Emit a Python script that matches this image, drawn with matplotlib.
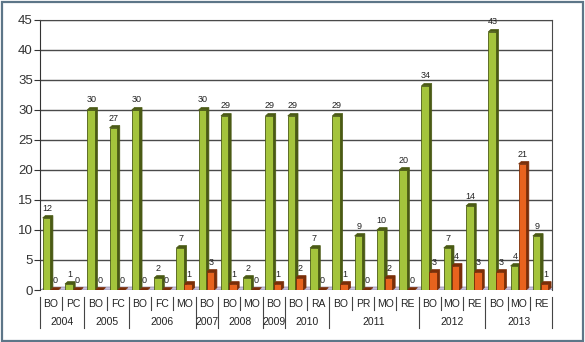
import matplotlib
matplotlib.use("Agg")
import matplotlib.pyplot as plt
from matplotlib.patches import Rectangle, Polygon
from matplotlib.transforms import blended_transform_factory

plt.rcParams["font.family"] = ["Liberation Sans", "DejaVu Sans"]

# data
years = ["2004", "2005", "2006", "2007", "2008", "2009", "2010", "2011", "2012", "2013"]
groups = [
    ["BO", "PC"],
    ["BO", "FC"],
    ["BO", "FC", "MO"],
    ["BO"],
    ["BO", "MO"],
    ["BO"],
    ["BO", "RA"],
    ["BO", "PR", "MO", "RE"],
    ["BO", "MO", "RE"],
    ["BO", "MO", "RE"],
]
green = [12, 1, 30, 27, 30, 2, 7, 30, 29, 2, 29, 29, 7, 29, 9, 10, 20, 34, 7, 14, 43, 4, 9]
orange = [0, 0, 0, 0, 0, 0, 1, 3, 1, 0, 1, 2, 0, 1, 0, 2, 0, 3, 4, 3, 3, 21, 1]

GREEN, GREEN_DK = "#a4c43c", "#4a5a14"
ORANGE, ORANGE_DK = "#e8631e", "#7a2e08"

cats = [c for g in groups for c in g]
n = len(cats)

fig = plt.figure(figsize=(5.85, 3.42), dpi=100)
fig.patches.append(Rectangle((0.003, 0.004), 0.994, 0.991, transform=fig.transFigure,
                             fill=False, edgecolor="#5d7688", linewidth=1.6))
ax = fig.add_axes([0.068, 0.152, 0.876, 0.79])
ax.set_xlim(0, n)
ax.set_ylim(0, 45)

for y in range(5, 46, 5):
    ax.axhline(y, color="#4a4a4a", linewidth=1.0, zorder=1)

# floor
floor = Polygon([(0, 0), (n, 0), (n + 0.35, 0.5), (0.35, 0.5)], closed=True,
                facecolor="#c8c0dc", edgecolor="#8a84a0", linewidth=0.5, zorder=1.5)
ax.add_patch(floor)

w = 0.34
dx, dy = 0.12, 0.4
for i in range(n):
    for off, val, col, dk in [(0.3, green[i], GREEN, GREEN_DK),
                              (0.66, orange[i], ORANGE, ORANGE_DK)]:
        x0 = i + off - w / 2
        # pseudo 3D side/top
        side = Polygon([(x0 + w, 0), (x0 + w + dx, dy), (x0 + w + dx, val + dy),
                        (x0 + dx, val + dy), (x0, val), (x0 + w, val)],
                       closed=True, facecolor=dk, edgecolor=dk, linewidth=0.5, zorder=2)
        ax.add_patch(side)
        ax.add_patch(Rectangle((x0, 0), w, val, facecolor=col, edgecolor=dk,
                               linewidth=0.6, zorder=3))
        ax.text(i + off + 0.03, val + 0.9, str(val), ha="center", va="bottom",
                fontsize=6.5, color="#222222", zorder=4)

for s in ["top", "right"]:
    ax.spines[s].set_color("#4a4a4a")
ax.spines["bottom"].set_visible(False)
ax.spines["left"].set_color("#333333")
ax.set_xticks([])
ax.set_yticks(range(0, 46, 5))
ax.tick_params(axis="y", labelsize=9.5, colors="#333333", length=4, pad=1)

# category labels below the axis
tr = blended_transform_factory(ax.transData, ax.transAxes)
row1, row2 = -0.05, -0.12
lc = "#444444"
pos = 0
for yr, g in zip(years, groups):
    for j, c in enumerate(g):
        ax.text(pos + j + 0.5, row1, c, transform=tr, ha="center", va="center",
                fontsize=7.5, color="#222222")
        if j > 0:
            ax.plot([pos + j, pos + j], [-0.025, -0.075], transform=tr, color=lc,
                    linewidth=0.8, clip_on=False)
    ax.text(pos + len(g) / 2, row2, yr, transform=tr, ha="center", va="center",
            fontsize=7.5, color="#222222")
    ax.plot([pos, pos], [-0.025, -0.14], transform=tr, color=lc, linewidth=0.8, clip_on=False)
    pos += len(g)
ax.plot([pos, pos], [-0.025, -0.14], transform=tr, color=lc, linewidth=0.8, clip_on=False)

fig.savefig("out.png", dpi=100)
